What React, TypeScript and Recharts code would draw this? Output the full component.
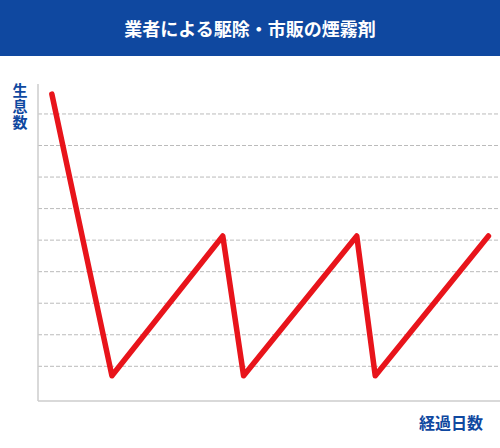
import React from "react";
import { Line, LineChart, ReferenceLine, XAxis, YAxis } from "recharts";

const title = "業者による駆除・市販の煙霧剤";
const yLabel = "生息数";
const xLabel = "経過日数";

// elapsed days (arbitrary units) and population level
const days = [3, 16, 40, 44.5, 69, 73, 97.5];
const population = [9.63, 0.7, 5.13, 0.7, 5.13, 0.7, 5.13];
const gridTicks = [1, 2, 3, 4, 5, 6, 7, 8, 9];

const data = days.map((d, i) => ({ day: d, count: population[i] }));

const blue = "#0f48a0";
const font = "'Noto Sans CJK JP', 'Noto Sans', sans-serif";

const NoTick = () => <g />;

export default function App() {
  return (
    <div style={{ position: "absolute", left: 0, top: 0, width: 500, height: 448, background: "#fff", fontFamily: font }}>
      <LineChart width={500} height={448} data={data} margin={{ top: 84, right: 0, bottom: 46, left: 37 }}>
        <XAxis
          dataKey="day"
          type="number"
          domain={[0, 100]}
          allowDataOverflow
          height={1}
          tick={NoTick}
          tickLine={false}
          axisLine={{ stroke: "#cccccc", strokeWidth: 1.5 }}
        />
        <YAxis
          type="number"
          domain={[-0.1, 9.95]}
          ticks={gridTicks}
          interval={0}
          allowDataOverflow
          width={1}
          tick={NoTick}
          tickLine={false}
          axisLine={{ stroke: "#cccccc", strokeWidth: 1.5 }}
        />
        {gridTicks.map((t) => (
          <ReferenceLine key={t} y={t} stroke="#bbbbbb" strokeDasharray="4 2" />
        ))}
        <Line
          type="linear"
          dataKey="count"
          stroke="#e8141b"
          strokeWidth={5.5}
          strokeLinejoin="round"
          strokeLinecap="round"
          dot={false}
          activeDot={false}
          isAnimationActive={false}
        />
      </LineChart>
      <div
        style={{
          position: "absolute", left: 0, top: 0, width: 500, height: 56, background: blue,
          color: "#fff", fontWeight: 700, fontSize: 18, lineHeight: "56px", textAlign: "center",
        }}
      >
        {title}
      </div>
      <div
        style={{
          position: "absolute", left: 12, top: 82, width: 16, color: blue, fontWeight: 700,
          fontSize: 15, lineHeight: "16px", textAlign: "center", wordBreak: "break-all",
        }}
      >
        {yLabel}
      </div>
      <div
        style={{
          position: "absolute", left: 419, top: 411, color: blue, fontWeight: 700,
          fontSize: 16, lineHeight: "22px", whiteSpace: "nowrap",
        }}
      >
        {xLabel}
      </div>
    </div>
  );
}
